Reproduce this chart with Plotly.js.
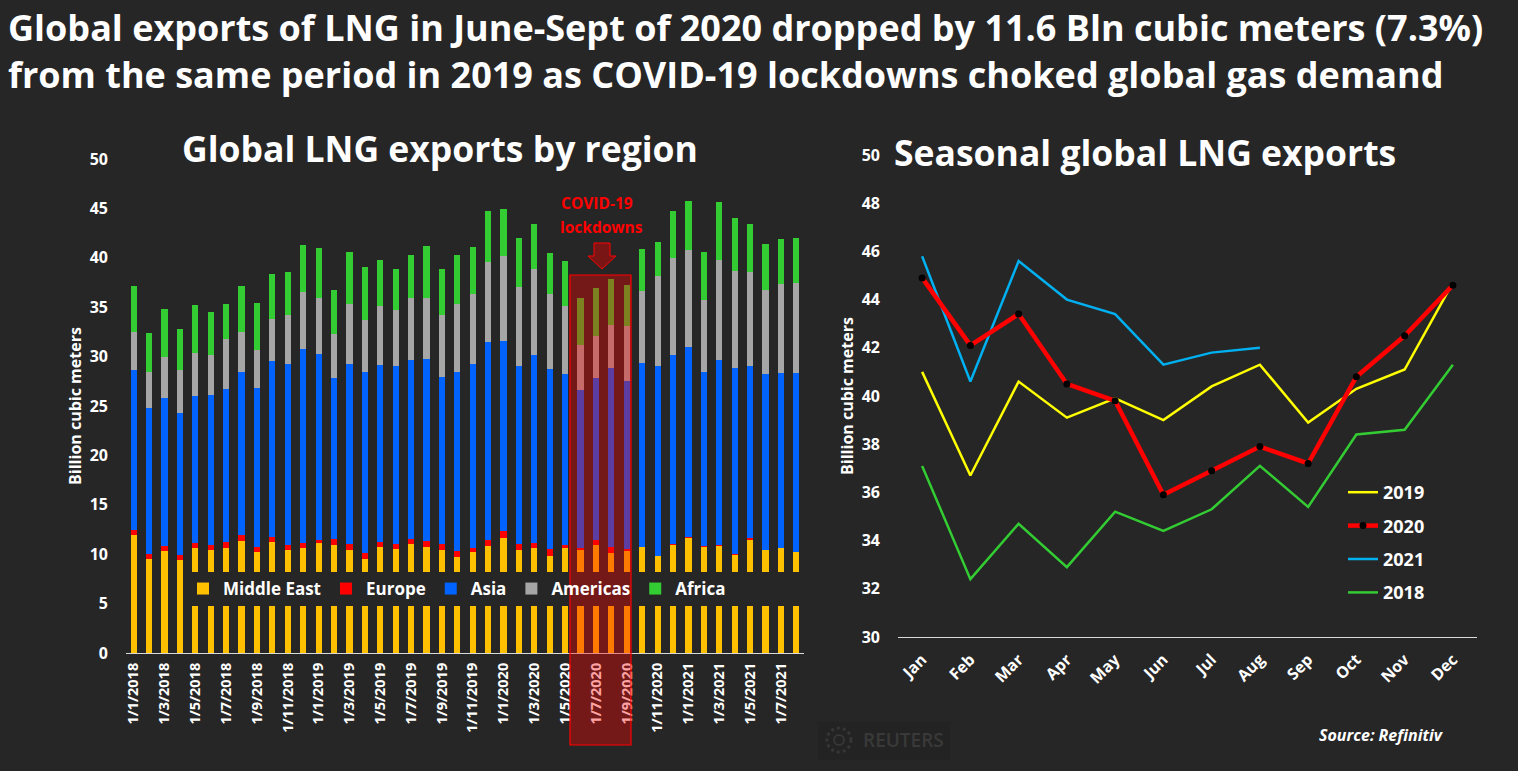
<!DOCTYPE html>
<html>
<head>
<meta charset="utf-8">
<script src="https://cdn.plot.ly/plotly-3.0.1.min.js"></script>
<style>html,body{margin:0;padding:0;background:#262626;}#chart{width:1518px;height:771px;}</style>
</head>
<body>
<div id="chart"></div>
<script>
// ---------- Data: Global LNG exports by region (billion cubic meters) ----------
const months = [
  "1/1/2018","1/2/2018","1/3/2018","1/4/2018","1/5/2018","1/6/2018","1/7/2018","1/8/2018","1/9/2018","1/10/2018","1/11/2018","1/12/2018",
  "1/1/2019","1/2/2019","1/3/2019","1/4/2019","1/5/2019","1/6/2019","1/7/2019","1/8/2019","1/9/2019","1/10/2019","1/11/2019","1/12/2019",
  "1/1/2020","1/2/2020","1/3/2020","1/4/2020","1/5/2020","1/6/2020","1/7/2020","1/8/2020","1/9/2020","1/10/2020","1/11/2020","1/12/2020",
  "1/1/2021","1/2/2021","1/3/2021","1/4/2021","1/5/2021","1/6/2021","1/7/2021","1/8/2021"
];
const monthTicks = [
  "1/1/2018","1/3/2018","1/5/2018","1/7/2018","1/9/2018","1/11/2018",
  "1/1/2019","1/3/2019","1/5/2019","1/7/2019","1/9/2019","1/11/2019",
  "1/1/2020","1/3/2020","1/5/2020","1/7/2020","1/9/2020","1/11/2020",
  "1/1/2021","1/3/2021","1/5/2021","1/7/2021"
];
const middleEast = [11.9,9.5,10.3,9.4,10.6,10.4,10.6,11.3,10.2,11.2,10.4,10.6,
                    11.1,10.9,10.4,9.5,10.7,10.5,11.0,10.7,10.4,9.7,10.2,10.8,
                    11.6,10.4,10.6,9.8,10.6,10.4,10.9,10.1,10.3,10.7,9.8,10.9,
                    11.6,10.7,10.8,9.9,11.4,10.4,10.6,10.2];
const europe     = [0.5,0.5,0.5,0.5,0.5,0.5,0.6,0.6,0.5,0.5,0.5,0.5,
                    0.3,0.6,0.6,0.6,0.5,0.5,0.5,0.6,0.6,0.6,0.4,0.6,
                    0.7,0.6,0.5,0.7,0.3,0.2,0.5,0.6,0.2,0.05,0.05,0.1,
                    0.1,0.1,0.1,0.1,0.2,0.05,0.05,0.05];
const asia       = [16.2,14.8,15.0,14.4,14.9,15.2,15.5,16.5,16.1,17.9,18.4,19.7,
                    18.9,16.3,18.3,18.3,18.0,18.0,18.2,18.5,16.9,18.1,18.7,20.1,
                    19.3,18.0,19.1,18.2,17.3,16.0,16.4,18.1,17.0,18.6,19.2,19.2,
                    19.3,17.6,18.8,18.8,17.4,17.8,17.7,18.1];
const americas   = [3.9,3.6,4.2,4.3,4.4,4.1,5.1,4.1,3.9,4.2,4.9,5.7,
                    5.6,4.5,6.0,5.3,5.9,5.7,6.2,6.1,6.3,6.9,7.0,8.1,
                    8.6,8.0,8.7,7.6,6.9,4.6,4.3,4.4,5.6,7.3,9.1,9.8,
                    9.8,7.3,10.1,9.9,9.6,8.5,9.0,9.1];
const africa     = [4.6,4.0,4.8,4.2,4.8,4.3,3.5,4.6,4.7,4.6,4.4,4.8,
                    5.1,4.4,5.3,5.4,4.7,4.2,4.4,5.3,4.7,5.0,4.8,5.1,
                    4.7,5.0,4.5,4.2,4.6,4.7,4.8,4.7,4.1,4.2,3.4,4.7,
                    5.0,4.9,5.8,5.3,4.8,4.6,4.6,4.6];

// ---------- Data: Seasonal global LNG exports (billion cubic meters) ----------
const monthNames = ["Jan","Feb","Mar","Apr","May","Jun","Jul","Aug","Sep","Oct","Nov","Dec"];
const exp2018 = [37.1,32.4,34.7,32.9,35.2,34.4,35.3,37.1,35.4,38.4,38.6,41.3];
const exp2019 = [41.0,36.7,40.6,39.1,39.9,39.0,40.4,41.3,38.9,40.3,41.1,44.7];
const exp2020 = [44.9,42.1,43.4,40.5,39.8,35.9,36.9,37.9,37.2,40.8,42.5,44.6];
const exp2021 = [45.8,40.6,45.6,44.0,43.4,41.3,41.8,42.0];

const BG = '#262626';
const FONT = 'Open Sans, Noto Sans, sans-serif';
const bold = (size, color) => ({family: FONT, size: size, color: color || '#ffffff', weight: 700});

function barTrace(name, values, color) {
  return {type: 'bar', name: name, x: months, y: values, xaxis: 'x', yaxis: 'y',
          marker: {color: color, line: {width: 0}}, legend: 'legend', hoverinfo: 'x+y+name'};
}
function lineTrace(name, values, color, width, rank, withMarkers) {
  const t = {type: 'scatter', mode: withMarkers ? 'lines+markers' : 'lines', name: name,
             x: monthNames.slice(0, values.length), y: values, xaxis: 'x2', yaxis: 'y2',
             line: {color: color, width: width}, legend: 'legend2', legendgroup: name, legendrank: rank};
  if (withMarkers) t.marker = {color: '#000000', size: 7};
  return t;
}

const traces = [
  barTrace('Middle East', middleEast, '#ffc000'),
  barTrace('Europe', europe, '#ff0000'),
  barTrace('Asia', asia, '#0062ff'),
  barTrace('Americas', americas, '#a6a6a6'),
  barTrace('Africa', africa, '#33cc33'),
  lineTrace('2018', exp2018, '#33cc33', 2.5, 4, false),
  lineTrace('2019', exp2019, '#ffff00', 2.5, 1, false),
  lineTrace('2021', exp2021, '#00b0f0', 2.5, 3, false),
  lineTrace('2020', exp2020, '#ff0000', 4.5, 2, true)
];

const W = 1518, H = 771;
const px = v => v / W;
const py = v => 1 - v / H;

const layout = {
  width: W, height: H,
  margin: {l: 0, r: 0, t: 0, b: 0},
  paper_bgcolor: BG, plot_bgcolor: BG,
  font: {family: FONT, color: '#ffffff'},
  barmode: 'stack',
  bargap: 0.6,
  showlegend: true,
  title: {
    text: 'Global exports of LNG in June-Sept of 2020 dropped by 11.6 Bln cubic meters (7.3%)<br>from the same period in 2019 as COVID-19 lockdowns choked global gas demand',
    x: px(8), xref: 'paper', xanchor: 'left',
    y: py(41), yref: 'paper', yanchor: 'top',
    font: bold(36)
  },
  xaxis: {
    domain: [px(126), px(804)], anchor: 'y', type: 'category',
    range: [-0.5, months.length - 0.5],
    tickmode: 'array', tickvals: monthTicks, ticktext: monthTicks,
    tickangle: -90, tickfont: bold(14.5), ticks: '', ticklabelstandoff: 3,
    showline: true, linecolor: '#d9d9d9', linewidth: 1,
    showgrid: false, zeroline: false, fixedrange: true
  },
  yaxis: {
    domain: [py(653), py(159)], anchor: 'x',
    range: [0, 50], dtick: 5, tick0: 0,
    tickfont: bold(16), ticks: '', ticklabelstandoff: 17,
    showline: false, showgrid: false, zeroline: false, fixedrange: true,
    title: {text: 'Billion cubic meters', font: bold(16), standoff: 4}
  },
  xaxis2: {
    domain: [px(898), px(1477)], anchor: 'y2', type: 'category',
    categoryorder: 'array', categoryarray: monthNames,
    range: [-0.5, 11.5],
    tickangle: -45, tickfont: bold(16), ticks: '', ticklabelstandoff: 6,
    showline: true, linecolor: '#d9d9d9', linewidth: 1,
    showgrid: false, zeroline: false, fixedrange: true
  },
  yaxis2: {
    domain: [py(637), py(155)], anchor: 'x2',
    range: [30, 50], dtick: 2, tick0: 30,
    tickfont: bold(16), ticks: '', ticklabelstandoff: 17,
    showline: false, showgrid: false, zeroline: false, fixedrange: true,
    title: {text: 'Billion cubic meters', font: bold(16), standoff: 4}
  },
  legend: {
    orientation: 'h', x: px(183), xanchor: 'left', y: py(571), yanchor: 'top',
    bgcolor: 'rgba(0,0,0,0)', font: bold(17), traceorder: 'normal'
  },
  legend2: {
    orientation: 'v', x: px(1343), xanchor: 'left', y: py(474), yanchor: 'top',
    bgcolor: 'rgba(0,0,0,0)', font: bold(18), tracegroupgap: 7
  },
  shapes: [
    // legend backdrop masking the bars
    {type: 'rect', xref: 'paper', yref: 'paper', x0: px(183), x1: px(805), y0: py(606), y1: py(572),
     fillcolor: BG, line: {width: 0}, layer: 'above'},
    // COVID-19 highlight
    {type: 'rect', xref: 'paper', yref: 'paper', x0: px(570), x1: px(631), y0: py(745), y1: py(275),
     fillcolor: 'rgba(255,0,0,0.36)', line: {color: '#ff0000', width: 1.2}, layer: 'above'},
    // down arrow
    {type: 'path', xref: 'paper', yref: 'paper', layer: 'above',
     path: 'M ' + px(594) + ' ' + py(243) + ' L ' + px(610) + ' ' + py(243) + ' L ' + px(610) + ' ' + py(256) +
           ' L ' + px(616) + ' ' + py(256) + ' L ' + px(602) + ' ' + py(269) + ' L ' + px(588) + ' ' + py(256) +
           ' L ' + px(594) + ' ' + py(256) + ' Z',
     fillcolor: '#7a1515', line: {color: '#ff0000', width: 1}},
    // faint watermark panel and logo
    {type: 'rect', xref: 'paper', yref: 'paper', x0: px(818), x1: px(950), y0: py(760), y1: py(722),
     fillcolor: '#232323', line: {width: 0}, layer: 'below'},
    {type: 'circle', xref: 'paper', yref: 'paper', x0: px(827), x1: px(851), y0: py(752), y1: py(728),
     line: {color: '#363636', width: 3, dash: 'dot'}, fillcolor: 'rgba(0,0,0,0)', layer: 'below'},
    {type: 'circle', xref: 'paper', yref: 'paper', x0: px(834), x1: px(844), y0: py(745), y1: py(735),
     line: {color: '#363636', width: 2}, fillcolor: 'rgba(0,0,0,0)', layer: 'below'}
  ],
  annotations: [
    {text: 'Global LNG exports by region', xref: 'paper', yref: 'paper', x: px(440), y: py(148),
     xanchor: 'center', yanchor: 'middle', showarrow: false, font: bold(35.5)},
    {text: 'Seasonal global LNG exports', xref: 'paper', yref: 'paper', x: px(892), y: py(152),
     xanchor: 'left', yanchor: 'middle', showarrow: false, font: bold(35.5)},
    {text: 'COVID-19', xref: 'paper', yref: 'paper', x: px(597), y: py(203),
     xanchor: 'center', yanchor: 'middle', showarrow: false, font: bold(15.5, '#ff0000')},
    {text: 'lockdowns', xref: 'paper', yref: 'paper', x: px(601), y: py(227),
     xanchor: 'center', yanchor: 'middle', showarrow: false, font: bold(15.5, '#ff0000')},
    {text: '<i>Source: Refinitiv</i>', xref: 'paper', yref: 'paper', x: px(1446), y: py(735),
     xanchor: 'right', yanchor: 'middle', showarrow: false, font: bold(16)},
    {text: 'REUTERS', xref: 'paper', yref: 'paper', x: px(903), y: py(740),
     xanchor: 'center', yanchor: 'middle', showarrow: false,
     font: {family: FONT, size: 19, color: '#393939', weight: 600}}
  ]
};

Plotly.newPlot('chart', traces, layout, {displayModeBar: false, staticPlot: true});
</script>
</body>
</html>
